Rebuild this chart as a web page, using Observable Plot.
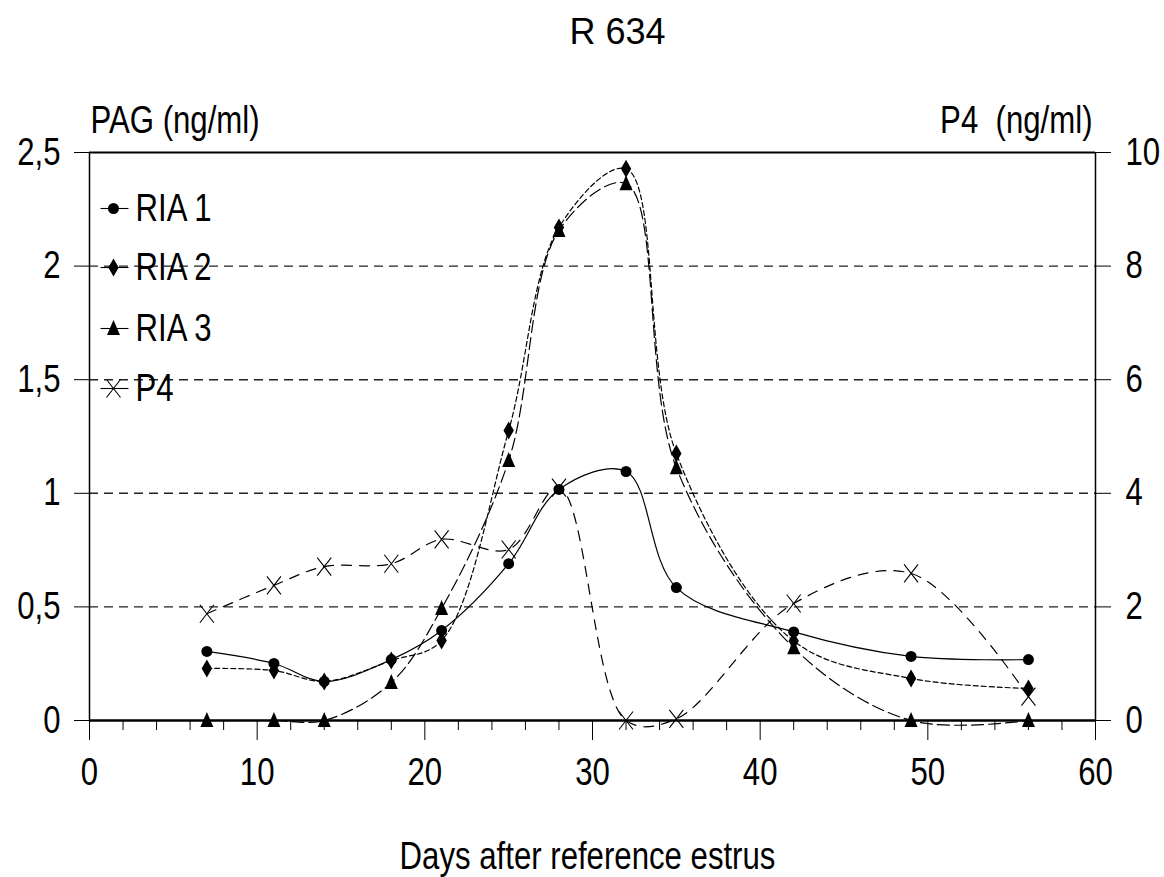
<!DOCTYPE html>
<html><head><meta charset="utf-8">
<script src="https://cdn.jsdelivr.net/npm/d3@7"></script>
<script src="https://cdn.jsdelivr.net/npm/@observablehq/plot@0.6"></script>
<style>body{margin:0;background:#fff}</style>
</head><body><div id="chart"></div>
<script>
const days = [7, 11, 14, 18, 21, 25, 28, 32, 35, 42, 49, 56];
const ria1 = [0.304, 0.251, 0.172, 0.268, 0.396, 0.69, 1.017, 1.096, 0.585, 0.39, 0.282, 0.268];
const ria2 = [0.229, 0.22, 0.172, 0.264, 0.352, 1.276, 2.17, 2.428, 1.175, 0.35, 0.185, 0.141];
const ria3 = [0, 0, 0, 0.167, 0.493, 1.144, 2.157, 2.363, 1.113, 0.32, 0, 0];
const p4 = [1.88, 2.38, 2.71, 2.76, 3.19, 3.01, 4.10, 0, 0.03, 2.06, 2.59, 0.42];
const xTicks = [0, 10, 20, 30, 40, 50, 60];
const pagTicks = [0, 0.5, 1, 1.5, 2, 2.5];
const p4Ticks = [0, 2, 4, 6, 8, 10];
const seriesNames = ["RIA 1", "RIA 2", "RIA 3", "P4"];

const rows = days.map((d, i) => ({day: d, ria1: ria1[i], ria2: ria2[i], ria3: ria3[i], p4: p4[i]}));
const P4SCALE = 2.5 / 10;

const NARROW = "'Liberation Sans',Arial,sans-serif";
const FS = 38;

const symCircle = {draw(c){ c.moveTo(5.5,0); c.arc(0,0,5.5,0,2*Math.PI); c.closePath(); }};
const symDiamond = {draw(c){ c.moveTo(0,-9); c.lineTo(5.2,0); c.lineTo(0,9); c.lineTo(-5.2,0); c.closePath(); }};
const symTriangle = {draw(c){ c.moveTo(0,-8.5); c.lineTo(6.5,6.5); c.lineTo(-6.5,6.5); c.closePath(); }};
const symTimes = {draw(c){ c.moveTo(-7,-9); c.lineTo(7,9); c.moveTo(7,-9); c.lineTo(-7,9); }};
const symHLine = {draw(c){ c.moveTo(-13,0); c.lineTo(15,0); }};

const series = [
  {name: seriesNames[0], y: "ria1", dash: null, sym: symCircle, fill: "black"},
  {name: seriesNames[1], y: "ria2", dash: "5,3", sym: symDiamond, fill: "black"},
  {name: seriesNames[2], y: "ria3", dash: "12,5", sym: symTriangle, fill: "black"},
  {name: seriesNames[3], y: d => d.p4 * P4SCALE, dash: "10,8", sym: symTimes, fill: "none"}
];

const marks = [
  Plot.gridY([0.5, 1, 1.5, 2], {stroke: "#222", strokeOpacity: 1, strokeDasharray: "9,6", strokeWidth: 1.4}),
  Plot.ruleY([2.5], {stroke: "black", strokeWidth: 2}),
  Plot.ruleX([0], {stroke: "black", strokeWidth: 1.5}),
  Plot.ruleX([60], {stroke: "black", strokeWidth: 1.5}),
  Plot.axisX({ticks: xTicks, tickSize: 20, tickPadding: 18, fontSize: FS, fontFamily: NARROW, label: null, tickFormat: d => String(d)}),
  Plot.axisX({ticks: d3.range(0, 61, 2).filter(d => d % 10), tickSize: 10, label: null, tickFormat: () => ""}),
  Plot.axisY({ticks: pagTicks, tickSize: 15, tickPadding: 14, fontSize: FS, fontFamily: NARROW, label: null, tickFormat: d => String(d).replace(".", ",")}),
  Plot.axisY({anchor: "right", ticks: p4Ticks.map(v => v * P4SCALE), tickSize: 15, tickPadding: 15, fontSize: FS, fontFamily: NARROW, label: null, tickFormat: d => String(Math.round(d / P4SCALE))}),
  Plot.ruleY([0], {stroke: "black", strokeWidth: 2.5})
];

for (const s of series) {
  marks.push(Plot.line(rows, {x: "day", y: s.y, curve: "catmull-rom", stroke: "black", strokeWidth: 1.2, strokeDasharray: s.dash}));
}
for (const s of series) {
  marks.push(Plot.dot(rows, {x: "day", y: s.y, symbol: s.sym, r: 5, fill: s.fill, stroke: "black", strokeWidth: s.fill === "none" ? 1.1 : 0}));
}

// legend
const legendDy = [56, 115, 176, 236];
series.forEach((s, i) => {
  marks.push(Plot.dot([0], {frameAnchor: "top-left", dx: 24, dy: legendDy[i], symbol: symHLine, r: 5, fill: "none", stroke: "black", strokeWidth: 1.1}));
  marks.push(Plot.dot([0], {frameAnchor: "top-left", dx: 24, dy: legendDy[i], symbol: s.sym, r: 5, fill: s.fill, stroke: "black", strokeWidth: s.fill === "none" ? 1.1 : 0}));
  marks.push(Plot.text([s.name], {frameAnchor: "top-left", dx: 46, dy: legendDy[i], text: d => d, textAnchor: "start", lineAnchor: "middle", fontSize: FS, fontFamily: NARROW, fill: "black"}));
});

// titles
marks.push(Plot.text(["R 634"], {frameAnchor: "top", dx: 25, dy: -109, text: d => d, lineAnchor: "bottom", fontSize: 36, fontFamily: "'Liberation Sans',Arial,sans-serif", fill: "black"}));
marks.push(Plot.text(["PAG (ng/ml)"], {frameAnchor: "top-left", dx: 1, dy: -20, text: d => d, textAnchor: "start", lineAnchor: "bottom", fontSize: FS, fontFamily: NARROW, fill: "black"}));
marks.push(Plot.text(["P4  (ng/ml)"], {frameAnchor: "top-right", dx: -3, dy: -20, text: d => d, textAnchor: "end", lineAnchor: "bottom", fontSize: FS, fontFamily: NARROW, fill: "black"}));
marks.push(Plot.text(["Days after reference estrus"], {frameAnchor: "bottom", dx: -5, dy: 148, text: d => d, lineAnchor: "bottom", fontSize: FS, fontFamily: NARROW, fill: "black"}));

const chart = Plot.plot({
  width: 1164,
  height: 877,
  marginLeft: 89,
  marginRight: 69,
  marginTop: 152,
  marginBottom: 157,
  x: {domain: [0, 60]},
  y: {domain: [0, 2.5]},
  style: {background: "white", color: "black", fontFamily: NARROW, overflow: "visible"},
  marks
});
document.getElementById("chart").appendChild(chart);

// condense all texts except the title (reference uses a narrow face)
for (const t of chart.querySelectorAll("text")) {
  const s = t.textContent;
  if (!s || s === "R 634") continue;
  if (s.includes("  ")) t.style.whiteSpace = "pre";
  const L = t.getComputedTextLength();
  if (L > 0) {
    t.setAttribute("textLength", (L * 0.82).toFixed(1));
    t.setAttribute("lengthAdjust", "spacingAndGlyphs");
  }
}
</script>
</body></html>
